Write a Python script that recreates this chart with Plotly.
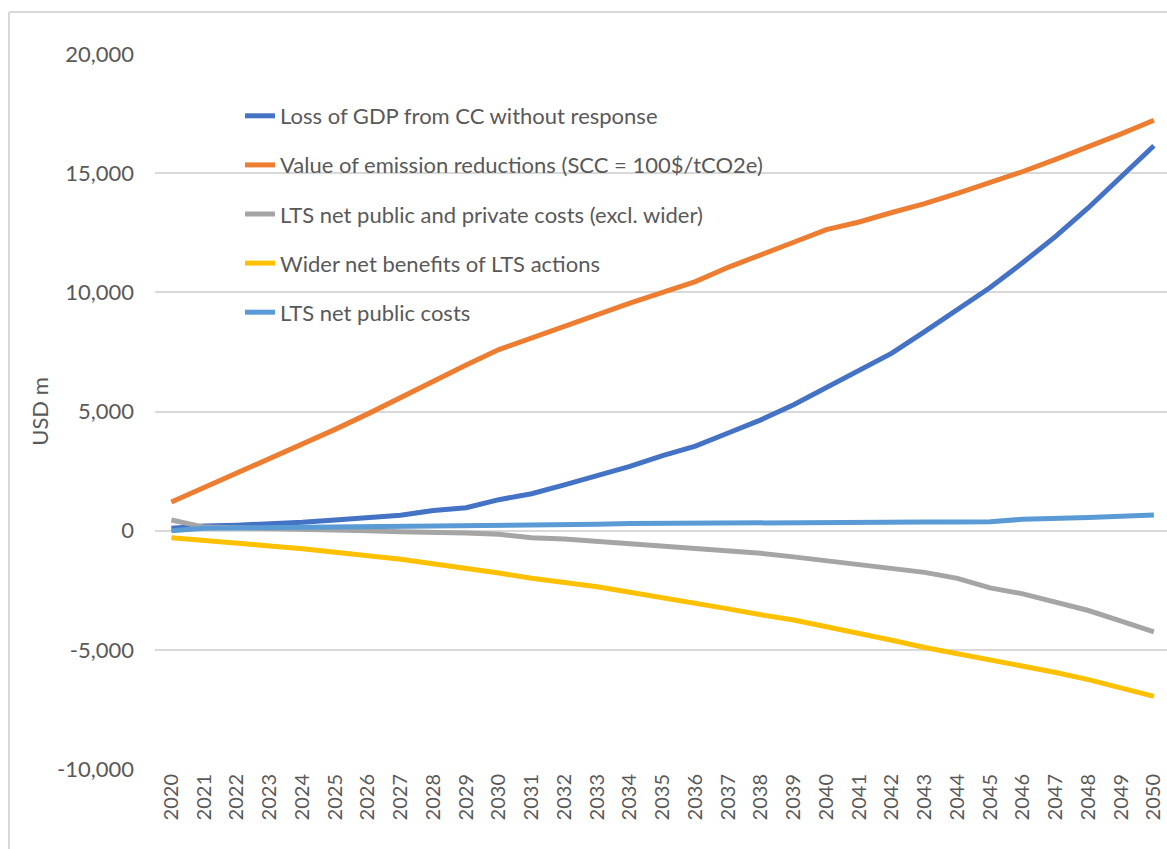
import plotly.graph_objects as go

years = list(range(2020, 2051))

gdp_loss = [100, 200, 230, 280, 350, 450, 550, 650, 850, 960,
            1300, 1550, 1920, 2300, 2700, 3150, 3550, 4100, 4650, 5280,
            6000, 6700, 7450, 8350, 9300, 10200, 11250, 12350, 13550, 14850,
            16150]
emission_value = [1200, 1800, 2400, 3000, 3600, 4250, 4900, 5600, 6250, 6950,
                  7600, 8100, 8550, 9050, 9550, 10000, 10450, 11050, 11550, 12100,
                  12630, 12950, 13350, 13720, 14150, 14600, 15070, 15580, 16100, 16650,
                  17220]
lts_net_costs = [450, 150, 120, 100, 80, 50, 0, -50, -50, -100,
                 -150, -300, -350, -450, -500, -600, -700, -800, -950, -1100,
                 -1260, -1400, -1550, -1750, -2000, -2400, -2650, -3000, -3350, -3800,
                 -4250]
wider_benefits = [-300, -400, -520, -640, -760, -880, -1050, -1200, -1380, -1550,
                  -1780, -2000, -2150, -2350, -2580, -2800, -3050, -3280, -3530, -3750,
                  -4030, -4300, -4600, -4900, -5150, -5400, -5680, -5950, -6250, -6580,
                  -6950]
lts_public_costs = [0, 100, 110, 120, 130, 150, 160, 170, 200, 200,
                    220, 250, 260, 270, 300, 310, 320, 350, 350, 360,
                    360, 360, 360, 360, 360, 370, 480, 500, 550, 600,
                    660]

y_ticks = [-10000, -5000, 0, 5000, 10000, 15000, 20000]
y_labels = ["-10,000", "-5,000", "0", "5,000", "10,000", "15,000", "20,000"]

series = [
    ("Loss of GDP from CC without response", gdp_loss, "#4472C4"),
    ("Value of emission reductions (SCC = 100$/tCO2e)", emission_value, "#ED7D31"),
    ("LTS net public and private costs (excl. wider)", lts_net_costs, "#A5A5A5"),
    ("Wider net benefits of LTS actions", wider_benefits, "#FFC000"),
    ("LTS net public costs", lts_public_costs, "#5B9BD5"),
]

_TEXT = "#595959"
_GRID = "#D9D9D9"
_FONT = dict(family="Lato, 'Open Sans', sans-serif", size=22, color=_TEXT)

fig = go.Figure()
for i, (name, vals, color) in enumerate(series):
    fig.add_trace(go.Scatter(
        x=years, y=vals, name=name,
        mode="lines",
        line=dict(color=color, width=5),
        legendgroup=f"g{i}",
        hovertemplate="%{x}: %{y:,.0f}<extra></extra>",
    ))

L, T, B = 155, 54, 80
W, H = 1167, 849
pw, ph = W - L, H - T - B

def px_x(p):
    return (p - L) / pw

def px_y(p):
    return (H - B - p) / ph

fig.update_layout(
    width=W, height=H,
    paper_bgcolor="white", plot_bgcolor="white",
    font=_FONT,
    margin=dict(l=L, r=0, t=T, b=B, autoexpand=False),
    showlegend=True,
    legend=dict(
        x=px_x(240), y=px_y(95), xanchor="left", yanchor="top",
        bgcolor="rgba(0,0,0,0)", font=dict(size=22, color=_TEXT),
        tracegroupgap=17.5, traceorder="grouped",
    ),
    xaxis=dict(
        range=[2019.5, 2050.4],
        tickvals=years, ticktext=[str(y) for y in years],
        tickangle=-90, showgrid=False, zeroline=False,
        showline=False, ticks="", automargin=False,
        tickfont=dict(size=20, color=_TEXT),
    ),
    yaxis=dict(
        range=[-10000, 20000],
        tickvals=y_ticks, ticktext=y_labels,
        gridcolor=_GRID, gridwidth=2,
        zeroline=False, showline=False, ticks="", automargin=False,
        ticklabelstandoff=20,
        tickfont=dict(size=22, color=_TEXT),
        title=dict(text="USD m", standoff=2, font=dict(size=22, color=_TEXT)),
    ),
    shapes=[
        dict(type="line", xref="paper", yref="paper",
             x0=px_x(9), x1=px_x(9), y0=px_y(12), y1=px_y(H + 10),
             line=dict(color=_GRID, width=2)),
        dict(type="line", xref="paper", yref="paper",
             x0=px_x(9), x1=px_x(W + 10), y0=px_y(12), y1=px_y(12),
             line=dict(color=_GRID, width=2)),
    ],
)

fig.write_html("out.html", config={"displayModeBar": False},
               post_script="document.body.style.margin='0';")
